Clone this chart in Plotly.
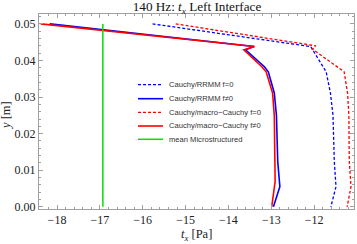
import plotly.graph_objects as go

# ---- data ----
y_rrmm_f0 = [0.05, 0.0438, 0.0369, 0.0311, 0.025, 0.0125, 0.0055, 0.0]
x_rrmm_f0 = [-15.77, -12.08, -11.72, -11.62, -11.56, -11.53, -11.49, -11.61]

y_rrmm_f = [0.05, 0.0438, 0.0429, 0.0383, 0.0369, 0.0311, 0.025, 0.0125, 0.0055, 0.0]
x_rrmm_f = [-18.17, -13.40, -13.60, -13.16, -13.07, -12.93, -12.88, -12.85, -12.80, -12.95]

y_macro_f0 = [0.05, 0.0440, 0.0431, 0.0369, 0.0311, 0.025, 0.0125, 0.0055, 0.0]
x_macro_f0 = [-15.23, -11.96, -12.04, -11.30, -11.22, -11.19, -11.18, -11.14, -11.23]

y_macro_f = [0.05, 0.0438, 0.0429, 0.0383, 0.0369, 0.0311, 0.025, 0.0125, 0.0069, 0.0]
x_macro_f = [-18.38, -13.39, -13.64, -13.22, -13.12, -12.97, -12.93, -12.91, -12.91, -12.99]

y_mean = [0.0, 0.05]
x_mean = [-16.93, -16.93]

legend_labels = ["Cauchy/RRMM f=0", "Cauchy/RRMM f\u22600",
                 "Cauchy/macro\u2212Cauchy f=0", "Cauchy/macro\u2212Cauchy f\u22600",
                 "mean Microstructured"]

x_ticks = [-18, -17, -16, -15, -14, -13, -12]
y_ticks = [0.00, 0.01, 0.02, 0.03, 0.04, 0.05]

BLUE = "#0000ff"
RED = "#ff0000"
GREEN = "#00e000"
DASH = "3px,2px"

styles = [
    dict(color=BLUE, width=1.3, dash=DASH),
    dict(color=BLUE, width=1.6),
    dict(color=RED, width=1.3, dash=DASH),
    dict(color=RED, width=1.6),
    dict(color=GREEN, width=1.5),
]

series = [
    (x_rrmm_f0, y_rrmm_f0),
    (x_rrmm_f, y_rrmm_f),
    (x_macro_f0, y_macro_f0),
    (x_macro_f, y_macro_f),
    (x_mean, y_mean),
]

fig = go.Figure()
for (xs, ys), st, name in zip(series, styles, legend_labels):
    fig.add_trace(go.Scatter(x=xs, y=ys, mode="lines", line=st, name=name,
                             showlegend=False, hoverinfo="skip"))

W, H = 357, 244
L, R, T, B = 39, 3, 14, 35
pw, ph = W - L - R, H - T - B

def px_x(p):
    return (p - L) / pw

def px_y(p):
    return (H - B - p) / ph

# manual legend
leg_y = [84.7, 98.7, 112.3, 126.0, 139.3]
shapes = []
annotations = []
for yy, st, name in zip(leg_y, styles, legend_labels):
    shapes.append(dict(type="line", xref="paper", yref="paper",
                       x0=px_x(138), x1=px_x(163), y0=px_y(yy), y1=px_y(yy),
                       line=st))
    annotations.append(dict(text=name, xref="paper", yref="paper",
                            x=px_x(166.5), y=px_y(yy), xanchor="left",
                            yanchor="middle", showarrow=False,
                            font=dict(family="Liberation Sans", size=7.6, color="#333")))

annotations.append(dict(text="<i>t</i><sub><i>x</i></sub> [Pa]", xref="paper", yref="paper",
                        x=0.5, y=px_y(235), xanchor="center", yanchor="middle",
                        showarrow=False,
                        font=dict(family="Liberation Serif", size=12.5, color="#222")))
annotations.append(dict(text="<i>y</i> [m]", xref="paper", yref="paper",
                        x=px_x(6), y=px_y(116), xanchor="center", yanchor="middle",
                        textangle=-90, showarrow=False,
                        font=dict(family="Liberation Serif", size=12.5, color="#222")))

axis_common = dict(
    showline=True, linecolor="#a0a0a0", linewidth=1, mirror="ticks",
    ticks="inside", ticklen=4, tickcolor="#a0a0a0", tickwidth=1,
    showgrid=False, zeroline=False,
    tickfont=dict(family="Liberation Serif", size=12, color="#222"),
)

fig.update_layout(
    width=W, height=H,
    margin=dict(l=L, r=R, t=T, b=B),
    paper_bgcolor="white", plot_bgcolor="white",
    hovermode=False,
    title=dict(text="140 Hz: <i>t</i><sub><i>x</i></sub> Left Interface",
               x=(197) / W, xanchor="center", xref="container",
               y=1 - 6.5 / H, yanchor="middle", yref="container",
               font=dict(family="Liberation Serif", size=13.2, color="#111")),
    xaxis=dict(range=[-18.42, -11.07], tickvals=x_ticks,
               minor=dict(ticks="inside", ticklen=2, dtick=0.2, tick0=0,
                          tickcolor="#a0a0a0"),
               **axis_common),
    yaxis=dict(range=[-0.0006, 0.0527], tickvals=y_ticks, tickformat=".2f",
               minor=dict(ticks="inside", ticklen=2, dtick=0.002, tick0=0,
                          tickcolor="#a0a0a0"),
               **axis_common),
    shapes=shapes,
    annotations=annotations,
)

fig.write_html("out.html", config={"displayModeBar": False},
               post_script="document.body.style.margin='0';document.body.style.overflow='hidden';")
